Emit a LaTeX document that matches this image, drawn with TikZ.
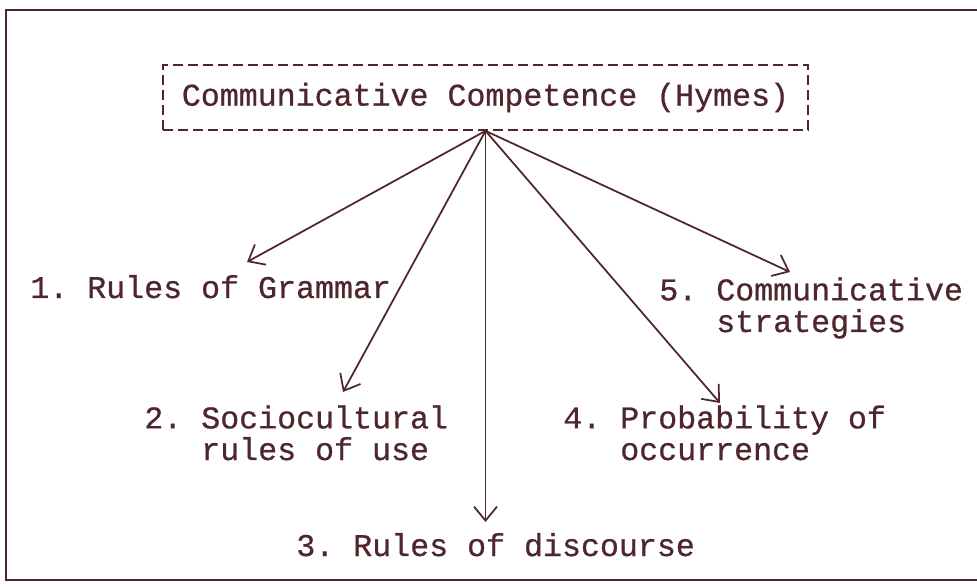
\documentclass[tikz,border=0pt]{standalone}
\usepackage{fontspec}
\setmonofont[FakeBold=0.7]{Liberation Mono}
\usetikzlibrary{arrows.meta, positioning}
\definecolor{inkMaroon}{RGB}{78, 38, 44}

\begin{document}
\begin{tikzpicture}[
    x=0.02cm, y=-0.02cm,
    every node/.style={text=inkMaroon, font=\ttfamily\fontsize{18pt}{18pt}\selectfont, inner sep=0pt},
    title/.style={rectangle, draw=inkMaroon, line width=1pt, dash pattern=on 2mm off 1mm, minimum width=12.9cm, minimum height=1.3cm},
    item/.style={align=left, anchor=base west},
    arrow/.style={-{Straight Barb[length=2.8mm, width=4.6mm]}, line width=1pt, inkMaroon}
]
    \useasboundingbox (0,0) rectangle (977,587);
    % Outer frame
    \begin{scope}
        \clip (0,0) rectangle (977,587);
        \draw[inkMaroon, line width=1.2pt] (6,10) rectangle (995,580);
    \end{scope}

    % Nodes
    \node[title] (hymes) at (485.5,97.5) {Communicative Competence (Hymes)};
    \node[item] (grammar) at (30,298) {1. Rules of Grammar};
    \node[item] (socio) at (144,460) {2. Sociocultural\\\hphantom{2. }rules of use};
    \node[item] (discourse) at (296,556) {3. Rules of discourse};
    \node[item] (prob) at (563,460) {4. Probability of\\\hphantom{4. }occurrence};
    \node[item] (strat) at (659,332) {5. Communicative\\\hphantom{5. }strategies};

    % Arrow tips
    \coordinate (t1) at (247,262);
    \coordinate (t2) at (343,392);
    \coordinate (t3) at (hymes.south |- 0,522);
    \coordinate (t4) at (720,403);
    \coordinate (t5) at (790,272);

    % Connections
    \foreach \t in {t1,t2,t3,t4,t5}
        \draw[arrow] (hymes.south) -- (\t);
\end{tikzpicture}
\end{document}
